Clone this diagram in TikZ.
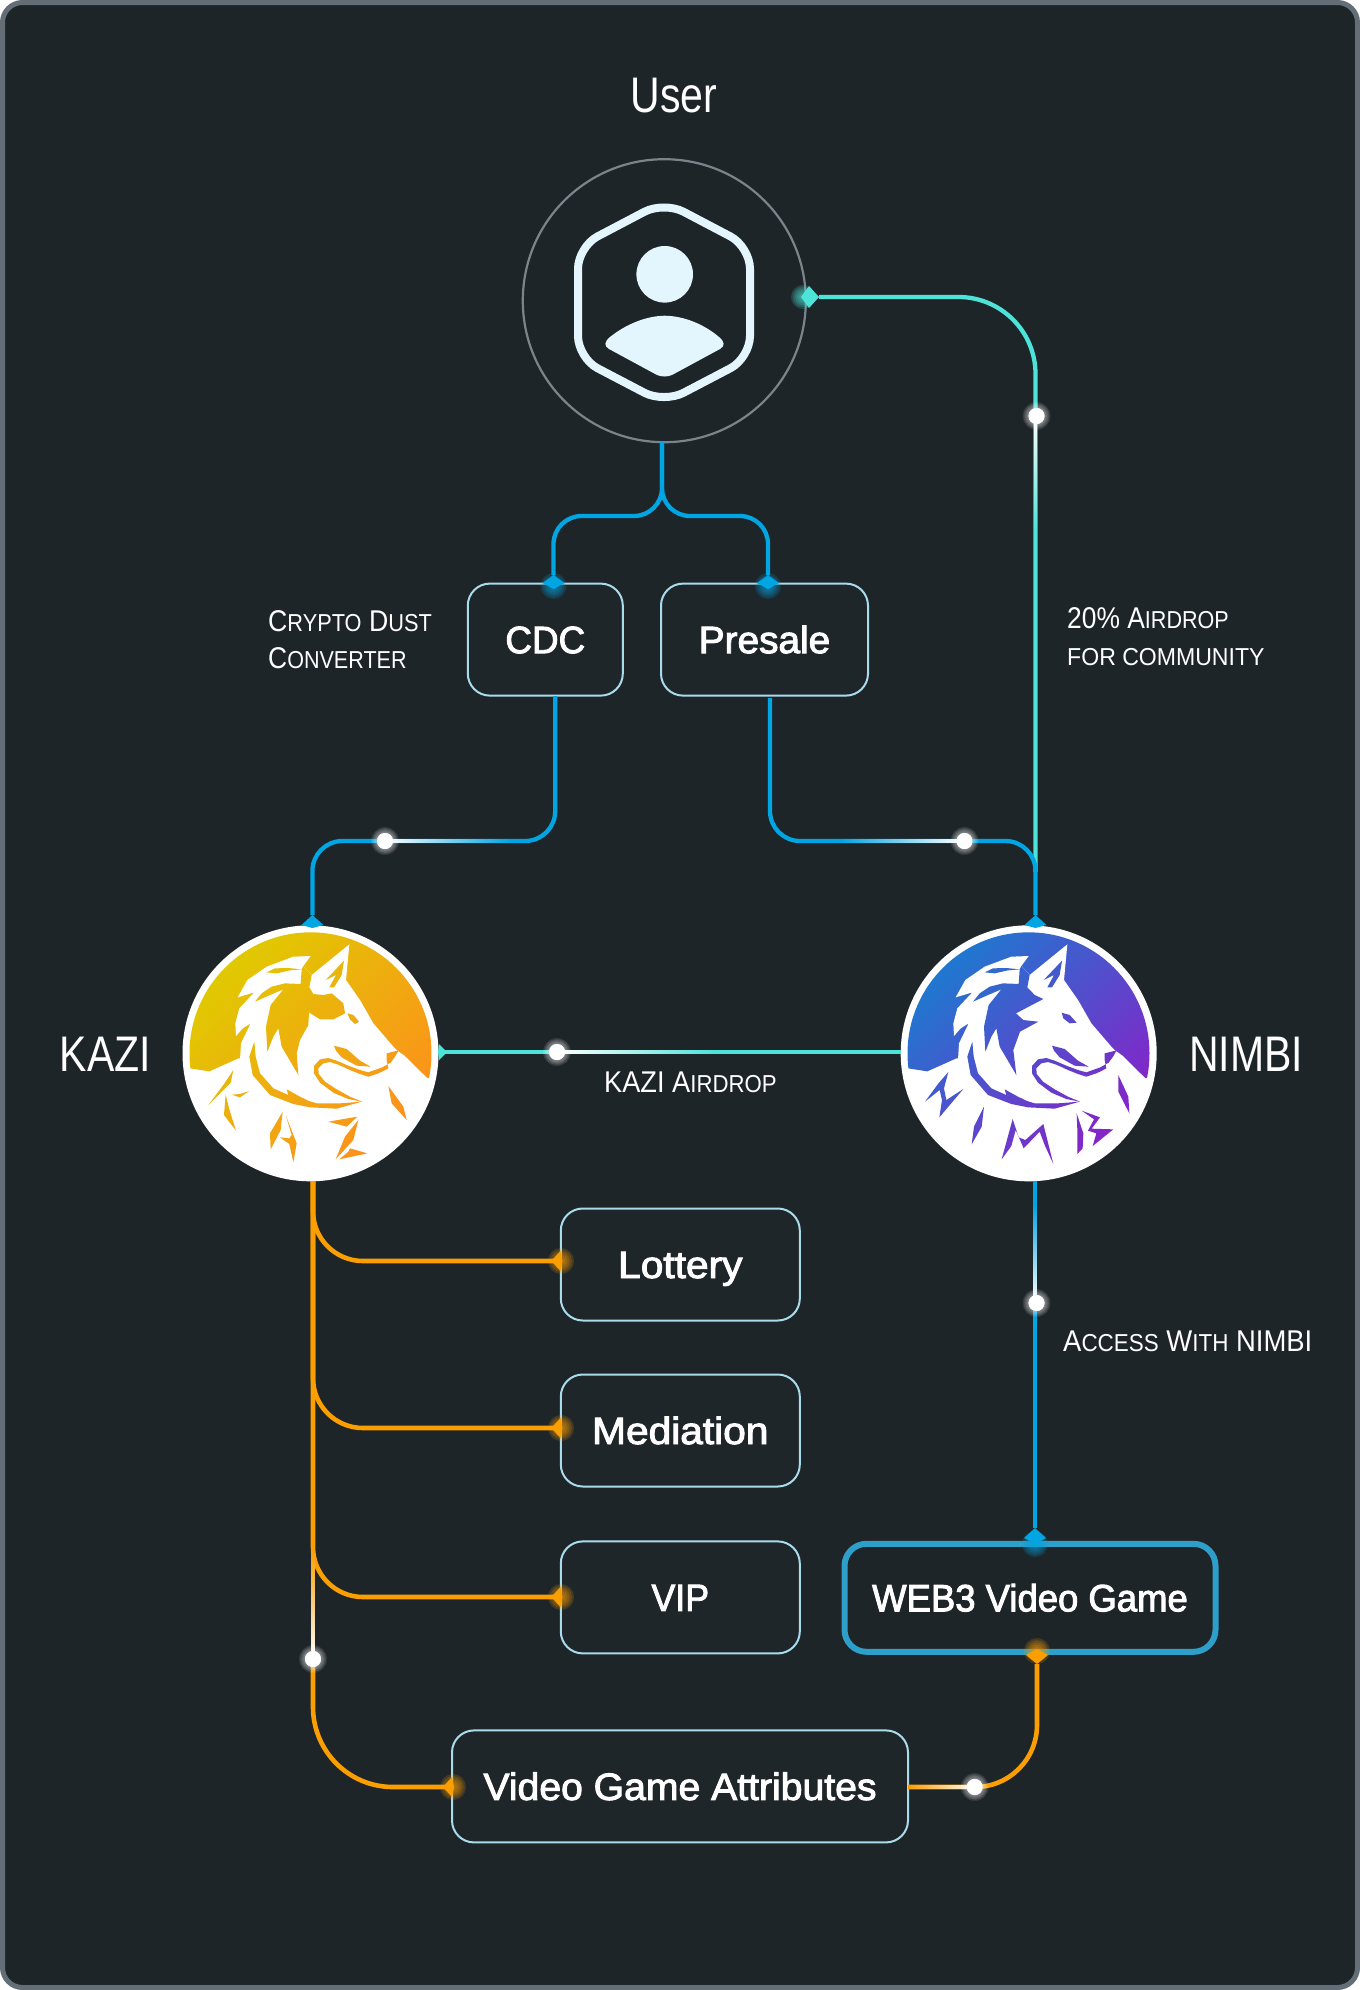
\documentclass[tikz,border=0pt]{standalone}
\usepackage{graphicx}
\usepackage{fontspec}
\setmainfont{Liberation Sans}
\newfontfamily\condf[FakeStretch=0.82]{Liberation Sans}
\newfontfamily\labf[FakeStretch=0.88]{Liberation Sans}
\newfontfamily\boxf[FakeBold=2.5]{Liberation Sans}
\definecolor{bgc}{HTML}{1E2529}
\definecolor{framec}{HTML}{646E76}
\definecolor{bluec}{HTML}{00A5E3}
\definecolor{tealc}{HTML}{4DE3D8}
\definecolor{orangec}{HTML}{FB9E00}
\definecolor{iconc}{HTML}{E3F5FD}
\definecolor{boxline}{HTML}{A9DCEB}
\definecolor{webline}{HTML}{2E9FC9}
\definecolor{boxfill}{HTML}{1F262A}
\definecolor{kazia}{HTML}{DFCB00}
\definecolor{kazib}{HTML}{FF8C1E}
\definecolor{nima}{HTML}{1B7BD0}
\definecolor{nimb}{HTML}{8F1CC8}
\newcommand{\sml}[1]{{\fontsize{24.5}{37}\selectfont\MakeUppercase{#1}}}
\newcommand{\xsc}[2]{\scalebox{#1}[1]{#2}}
\newcommand{\glowat}[3]{\foreach \gr in {1,...,6}{\fill[#1,opacity=.18] (#2) circle ({#3*\gr/6});}}
\newcommand{\kiteat}[6]{\fill[#1,shift={(#2)}] (0,-#3) -- (#4,0) -- (0,#5) -- (-#6,0) -- cycle;}
\newcommand{\wolf}[5]{%
  \begin{scope}
    \clip (451.5,460) circle (363);
    \clip #3;
    \shade[top color=#1,bottom color=#2,shading angle=45] (60,70) rectangle (850,850);
  \end{scope}
  \fill[white] (568,133) -- (558,240) -- (600,300) -- (640,370) -- (700,440) -- (712,452) -- (735,468) -- (735,640) -- (235,640) -- (240,480) -- (243,430) -- (272,370) -- (248,385) -- (228,408) -- (226,370) -- (238,325) -- (283,277) -- (233,292) -- (262,240) -- (320,200) -- (400,170) -- (452,168) -- (430,198) -- (455,225) -- cycle;
  \begin{scope}
    \path[clip]
      (320,217) -- (345,205) -- (385,204) -- (425,208) -- (390,211) -- (350,220) -- cycle
      (285,305) -- (305,280) -- (335,260) -- (375,250) -- (424,252) -- (375,266) -- (330,285) -- cycle
      (552,182) -- (497,240) -- (528,225) -- (508,262) -- (522,262) -- (545,225) -- cycle
      (522,437) -- (560,447) -- (600,482) -- (632,500) -- (590,497) -- (545,472) -- (528,452) -- cycle
      (283,425) -- (268,470) -- (278,525) -- (330,585) -- (400,612) -- (450,622) -- (530,626) -- (605,605) -- (540,610) -- (470,610) -- (447,603) -- (420,590) -- (380,568) -- (385,585) -- (340,565) -- (300,520) -- (287,470) -- cycle
      (680,460) -- (716,451) -- (705,470) -- (692,488) -- (665,503) -- (650,508) -- (625,517) -- (600,510) -- (565,497) -- (530,482) -- (505,474) -- (480,478) -- (462,498) -- (462,520) -- (480,548) -- (520,578) -- (565,597) -- (606,605) -- (570,590) -- (530,568) -- (495,545) -- (476,522) -- (475,505) -- (490,490) -- (510,486) -- (535,494) -- (570,510) -- (600,522) -- (625,530) -- (655,520) -- (670,513) -- (685,505) -- (680,480) -- cycle
      #4 #5;
    \shade[top color=#1,bottom color=#2,shading angle=45] (60,70) rectangle (850,850);
  \end{scope}}
\begin{document}
\begin{tikzpicture}[x=1pt,y=-1pt,
  boxn/.style={draw=boxline,line width=2,rounded corners=22,fill=boxfill,inner sep=0,outer sep=0,text=white,text height=27,text depth=0,font=\boxf\fontsize{38}{44}\selectfont},
  bigl/.style={text=white,inner sep=0,font=\condf\fontsize{50}{58}\selectfont},
  labl/.style={text=white,inner sep=0,anchor=west,align=left,font=\labf\fontsize{30}{37}\selectfont},
  dotn/.style={circle,fill=white,minimum size=16,inner sep=0,outer sep=0},
  bl/.style={bluec,line width=4.3},
  te/.style={tealc,line width=4.3},
  og/.style={orangec,line width=4.6}]
\useasboundingbox (0,0) rectangle (1360,1990);
\fill[white] (0,0) rectangle (1360,1990);
\draw[framec,line width=5,fill=bgc,rounded corners=20] (2.5,2.5) rectangle (1357.5,1987.5);

% nodes
\node[circle,draw=framec!85!white,line width=2.2,minimum size=283,inner sep=0,outer sep=0] (user) at (664.3,300.7) {};
\node[circle,fill=white,minimum size=256,inner sep=0,outer sep=0] (kazi) at (310.5,1053.3) {};
\node[circle,fill=white,minimum size=256,inner sep=0,outer sep=0] (nimbi) at (1028.7,1053.3) {};
\node[boxn,minimum width=155,minimum height=112] (cdc) at (545.3,639.6) {\xsc{.97}{CDC}};
\node[boxn,minimum width=207,minimum height=112] (presale) at (764.5,639.6) {\xsc{1.02}{Presale}};
\node[boxn,minimum width=239,minimum height=112] (lottery) at (680.3,1264.5) {\xsc{1.07}{Lottery}};
\node[boxn,minimum width=239,minimum height=112] (mediation) at (680.3,1430.5) {\xsc{1.07}{Mediation}};
\node[boxn,minimum width=239,minimum height=112] (vip) at (680.3,1597.4) {\xsc{.94}{VIP}};
\node[boxn,draw=webline,line width=6,minimum width=371,minimum height=108,fill=bgc] (web) at (1030,1597.8) {\xsc{.96}{WEB3 Video Game}};
\node[boxn,minimum width=456,minimum height=112] (attrs) at (680,1786.4) {\xsc{1.03}{Video Game Attributes}};

\node[bigl] (tuser) at (673.7,96) {User};
\node[bigl] (tkazi) at (105.3,1054) {KAZI};
\node[bigl] (tnimbi) at (1246,1054) {NIMBI};
\node[labl] (tcrypto) at (268,640) {\xsc{1.01}{C\sml{rypto} D\sml{ust}}\\C\sml{onverter}};
\node[labl] (tair) at (1067,637) {20\% A\sml{irdrop}\\\xsc{1.07}{\sml{for community}}};
\node[labl] (tka) at (604,1082) {\xsc{1.03}{KAZI A\sml{irdrop}}};
\node[labl] (tacc) at (1063,1341) {\xsc{1.04}{A\sml{ccess} W\sml{ith} NIMBI}};

% dots
\node[dotn] (d1) at (385,841) {};
\node[dotn] (d2) at (964.5,841) {};
\node[dotn] (d3) at (1036.5,416) {};
\node[dotn] (d4) at (557,1052) {};
\node[dotn] (d5) at (1036.5,1303) {};
\node[dotn] (d6) at (313,1659) {};
\node[dotn] (d7) at (974.7,1787) {};

% waypoints
\coordinate (usplit) at (662,516);
\coordinate (cdcin) at (553.5,575);
\coordinate (prein) at (768,575);
\coordinate (cdcout) at (555.2,696);
\coordinate (preout) at (770,698);
\coordinate (kin) at (312.4,915);
\coordinate (nin) at (1035.5,915);
\coordinate (hgt) at (0,841);
\coordinate (tealtip) at (819,297);
\coordinate (tealx) at (1035.5,872);
\coordinate (webin) at (1035,1528);
\coordinate (trunk) at (313,1181);
\coordinate (lotin) at (560,1261);
\coordinate (medin) at (560,1428);
\coordinate (vipin) at (560,1597);
\coordinate (attin) at (452,1787);

% connectors
\draw[te,rounded corners=77] (tealtip) -- (tealtip -| tealx) -- (tealx);
\draw[bl,rounded corners=28] (user.south -| usplit) -- (usplit) -- (usplit -| cdcin) -- (cdcin);
\draw[bl,rounded corners=28] (user.south -| usplit) -- (usplit) -- (usplit -| prein) -- (prein);
\draw[bl,rounded corners=30] (cdcout) -- (cdcout |- hgt) -- (kin |- hgt) -- (kin);
\draw[bl,rounded corners=30] (preout) -- (preout |- hgt) -- (nin |- hgt) -- (nin);
\draw[te] (kazi.east |- d4) -- (nimbi.west |- d4);
\draw[bl] (nimbi.south -| webin) -- (webin);
\draw[og] (trunk) -- (d6);
\draw[og,rounded corners=50] (trunk) -- (trunk |- lotin) -- (lotin);
\draw[og,rounded corners=50] (trunk) -- (trunk |- medin) -- (medin);
\draw[og,rounded corners=50] (trunk) -- (trunk |- vipin) -- (vipin);
\draw[og,rounded corners=80] (d6) -- (d6 |- attin) -- (attin);
\draw[og,rounded corners=62] (attrs.east |- d7) -- (1037,1787) -- (1037,1664);

% white fades along connectors
\shade[left color=white,right color=bluec] (385,839.6) rectangle (510,842.4);
\shade[left color=bluec,right color=white] (840,839.6) rectangle (964,842.4);
\shade[top color=white,bottom color=tealc] (1034.1,416) rectangle (1036.9,530);
\shade[left color=white,right color=tealc] (557,1050.6) rectangle (715,1053.4);
\shade[top color=bluec,bottom color=white] (1033.6,1205) rectangle (1036.4,1303);
\shade[top color=orangec,bottom color=white] (311.6,1550) rectangle (314.4,1659);
\shade[left color=orangec,right color=white] (908,1785.6) rectangle (975,1788.4);

% kites
\glowat{bluec}{553.5,586}{13}
\glowat{bluec}{768,586}{13}
\kiteat{bluec}{553.5,583}{8}{11}{6}{11}
\kiteat{bluec}{768,583}{8}{11}{6}{11}
\kiteat{bluec}{312.4,925}{10}{11}{3}{11}
\kiteat{bluec}{1035.5,925}{10}{11}{3}{11}
\glowat{tealc}{803,297}{12}
\kiteat{tealc}{809,297}{11}{10}{11}{8}
\kiteat{tealc}{439,1052}{8}{8}{8}{1}
\glowat{orangec}{561,1261}{13}
\glowat{orangec}{561,1428}{13}
\glowat{orangec}{561,1597}{13}
\glowat{orangec}{453,1787}{13}
\kiteat{orangec}{560.4,1261}{10}{2}{10}{9}
\kiteat{orangec}{560.4,1428}{10}{2}{10}{9}
\kiteat{orangec}{560.4,1597}{10}{2}{10}{9}
\kiteat{orangec}{452,1787}{10}{2}{10}{9}
\glowat{bluec}{1035,1544}{13}
\kiteat{bluec}{1035,1538}{10}{11}{6}{11}
\glowat{orangec}{1037,1651}{13}
\kiteat{orangec}{1037,1655}{6}{11}{9}{11}

% dot halos
\foreach \dn in {d1,d2,d3,d4,d5,d6,d7}{
  \foreach \gr in {1,...,6}{\fill[white,opacity=.09] (\dn) circle ({8+\gr*1});}
  \fill[white] (\dn) circle (8);}

% user icon
\draw[iconc,line width=8,rounded corners=22] (578,302) -- (578,246.7) -- (664,201.5) -- (750,246.7) -- (750,358) -- (664,403) -- (578,358) -- cycle;
\fill[iconc] (664.7,274.3) circle (28.3);
\fill[iconc] (610,337) .. controls (625,325) and (645,316) .. (664.7,315.7) .. controls (685,316) and (705,325) .. (719,337) .. controls (725,342) and (725,346) .. (720,349) -- (672,375) .. controls (667,377) and (662,377) .. (657,375) -- (609,349) .. controls (604,346) and (604,342) .. (610,337) -- cycle;

% logos
\begin{scope}[shift={(160,900)},x=0.33333pt,y=-0.33333pt]
\wolf{kazia}{kazib}{(0,0) -- (900,0) -- (900,530) -- (812,530) -- (803,535) -- (735,468) -- (235,475) -- (148,514) -- (90,505) -- (0,495) -- cycle}
{(430,198) -- (425,208) -- (422,252) -- (370,268) -- (332,315) -- (318,380) -- (322,455) -- (340,410) -- (355,385) -- (365,440) -- (415,525) -- (410,460) -- (420,420) -- (445,375) -- (447,337) -- (480,358) -- (520,358) -- (555,340) -- (550,310) -- (515,280) -- (490,285) -- (460,282) -- (448,262) -- (455,225) -- cycle
 (562,340) -- (580,345) -- (597,365) -- (585,372) -- (570,358) -- cycle}
{(220,510) -- (212,548) -- (145,615) -- (190,555) -- cycle
 (268,573) -- (240,592) -- (215,584) -- (240,582) -- cycle
 (197,583) -- (207,625) -- (228,692) -- (192,645) -- cycle
 (368,635) -- (362,690) -- (332,748) -- (330,700) -- cycle
 (378,648) -- (410,730) -- (400,787) -- (388,732) -- (360,712) -- (388,715) -- (395,705) -- cycle
 (592,650) -- (505,665) -- (560,680) -- cycle
 (595,660) -- (580,720) -- (527,778) -- (555,710) -- cycle
 (570,745) -- (622,760) -- (538,778) -- (565,755) -- cycle
 (685,558) -- (730,620) -- (740,660) -- (695,610) -- cycle}
\end{scope}
\begin{scope}[shift={(878,900)},x=0.33333pt,y=-0.33333pt]
\wolf{nima}{nimb}{(0,0) -- (900,0) -- (900,530) -- (812,530) -- (803,535) -- (735,468) -- (235,475) -- (148,514) -- (90,505) -- (0,495) -- cycle}
{(430,198) -- (425,208) -- (422,252) -- (370,268) -- (332,315) -- (318,380) -- (322,455) -- (340,410) -- (355,385) -- (365,440) -- (415,525) -- (406,450) -- (426,395) -- (481,365) -- (436,360) -- (414,340) -- (496,297) -- (470,285) -- (448,262) -- (455,225) -- cycle
 (551,338) -- (575,345) -- (596,368) -- (575,370) -- (556,355) -- cycle}
{(211,516) -- (183,548) -- (141,605) -- (185,570) -- (192,600) -- (184,652) -- (256,567) -- (205,600) -- (198,565) -- cycle
 (318,620) -- (311,680) -- (281,733) -- (288,680) -- cycle
 (404,657) -- (422,712) -- (442,720) -- (496,672) -- (526,792) -- (500,735) -- (485,695) -- (437,745) -- (413,690) -- (400,738) -- (371,778) -- cycle
 (596,640) -- (616,700) -- (614,745) -- (598,762) -- (598,690) -- cycle
 (611,632) -- (666,652) -- (641,686) -- (706,688) -- (644,738) -- (655,700) -- (630,692) -- (648,658) -- cycle
 (721,525) -- (751,590) -- (754,640) -- (721,575) -- cycle}
\end{scope}
\end{tikzpicture}
\end{document}
